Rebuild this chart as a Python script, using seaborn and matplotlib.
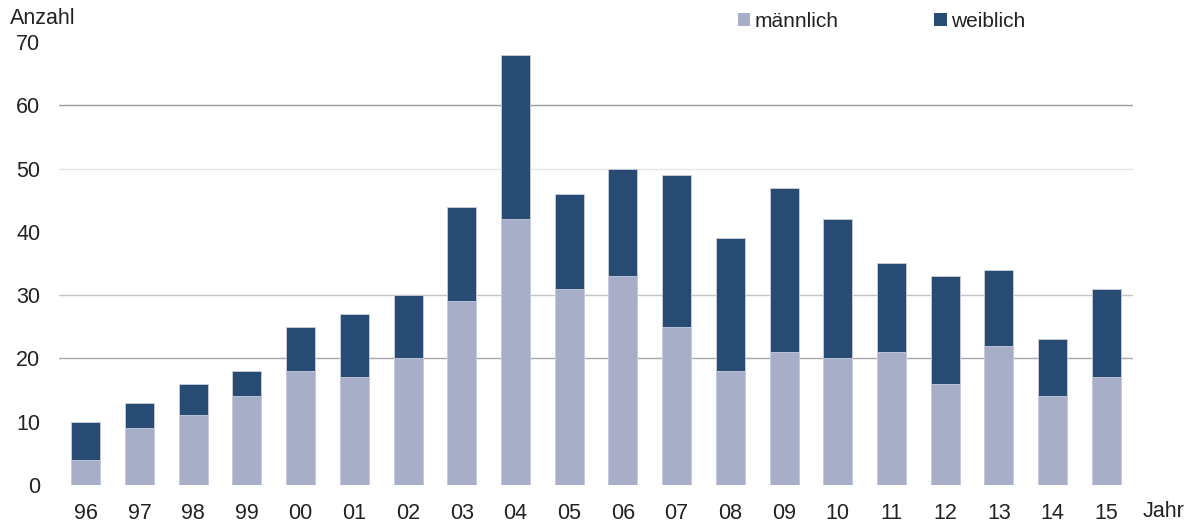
import matplotlib
matplotlib.use("Agg")
import matplotlib.pyplot as plt
import seaborn as sns
import pandas as pd
from matplotlib.patches import Patch

jahre = ["96", "97", "98", "99", "00", "01", "02", "03", "04", "05",
         "06", "07", "08", "09", "10", "11", "12", "13", "14", "15"]
maennlich = [4, 9, 11, 14, 18, 17, 20, 29, 42, 31, 33, 25, 18, 21, 20, 21, 16, 22, 14, 17]
weiblich = [6, 4, 5, 4, 7, 10, 10, 15, 26, 15, 17, 24, 21, 26, 22, 14, 17, 12, 9, 14]

c_m = "#a9aec8"
c_w = "#284b73"

df = pd.DataFrame({"Jahr": jahre, "maennlich": maennlich, "weiblich": weiblich})
df["gesamt"] = df["maennlich"] + df["weiblich"]

sns.set_style("white")
plt.rcParams["font.family"] = ["Liberation Sans", "DejaVu Sans"]

fs = 15.5
fig = plt.figure(figsize=(11.94, 5.25), dpi=100)
ax = fig.add_axes([0.0494, 0.0762, 0.8996, 0.8438])

# gridlines (only at some levels, as in reference)
for yv, col in [(60, "#999999"), (50, "#e6e6e6"), (30, "#c4c4c4"), (20, "#a8a8a8")]:
    ax.axhline(yv, color=col, lw=1.0, zorder=0)

sns.barplot(data=df, x="Jahr", y="gesamt", color=c_w, saturation=1, width=0.54,
            edgecolor="#c9d0dc", linewidth=0.6, ax=ax, zorder=2)
sns.barplot(data=df, x="Jahr", y="maennlich", color=c_m, saturation=1, width=0.54,
            edgecolor="#c9cde0", linewidth=0.6, ax=ax, zorder=3)

ax.set_xlim(-0.5, 19.5)
ax.set_ylim(0, 70)
ax.set_yticks(range(0, 71, 10))
ax.set_xlabel("")
ax.set_ylabel("")
for s in ax.spines.values():
    s.set_visible(False)
ax.tick_params(axis="both", length=0, labelsize=fs, colors="#222222")
ax.tick_params(axis="y", pad=13.5)
ax.tick_params(axis="x", pad=13)
for lbl in ax.get_yticklabels():
    lbl.set_horizontalalignment("right")

fig.text(0.008, 0.965, "Anzahl", fontsize=fs, color="#222222", ha="left", va="center")
fig.text(0.957, 0.026, "Jahr", fontsize=fs, color="#222222", ha="left", va="center")

handles = [Patch(facecolor=c_m, edgecolor="none", label="männlich"),
           Patch(facecolor=c_w, edgecolor="none", label="weiblich")]
leg = fig.legend(handles=handles, loc="center left", bbox_to_anchor=(0.602, 0.96),
                 ncol=2, frameon=False, fontsize=15, handlelength=0.6, handleheight=0.6,
                 handletextpad=0.2, columnspacing=4.6)
for t in leg.get_texts():
    t.set_color("#222222")

fig.savefig("out.png", dpi=100)
